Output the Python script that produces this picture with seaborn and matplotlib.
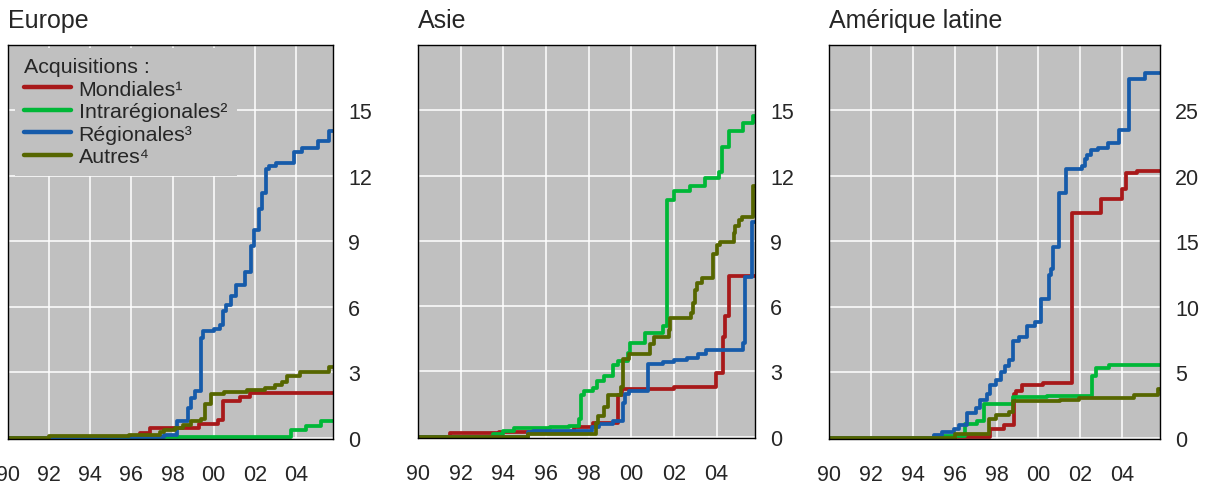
import numpy as np
import pandas as pd
import matplotlib
matplotlib.use("Agg")
import matplotlib.pyplot as plt
import seaborn as sns

# cumulative acquisitions, step points (year, value)
years_end = 2005.8

europe_mondiales = [(1990.0, 0.0), (1995.9, 0.05), (1996.4, 0.2), (1996.9, 0.45), (1999.3, 0.62),
                    (2000.2, 0.8), (2000.45, 1.7), (2001.3, 1.88), (2001.75, 2.03)]
europe_intra = [(1990.0, 0.0), (1996.0, 0.05), (2003.75, 0.37), (2004.5, 0.55), (2005.2, 0.78)]
europe_regionales = [(1990.0, 0.0), (1994.7, 0.03), (1997.6, 0.14), (1998.2, 0.78), (1998.75, 1.37),
                     (1998.9, 1.82), (1999.1, 2.14), (1999.4, 4.56), (1999.5, 4.88), (2000.0, 5.0),
                     (2000.3, 5.15), (2000.45, 5.8), (2000.6, 6.1), (2000.85, 6.5), (2001.1, 6.98),
                     (2001.5, 7.6), (2001.8, 8.8), (2001.95, 9.5), (2002.2, 10.5), (2002.35, 11.2),
                     (2002.55, 12.3), (2002.7, 12.45), (2003.05, 12.6), (2003.9, 13.1),
                     (2004.3, 13.3), (2005.05, 13.6), (2005.6, 14.05)]
europe_autres = [(1990.0, 0.0), (1992.0, 0.06), (1995.9, 0.12), (1997.4, 0.25), (1997.6, 0.35),
                 (1998.1, 0.45), (1998.5, 0.6), (1998.9, 0.75), (1999.4, 0.85), (1999.6, 1.55),
                 (1999.85, 2.0), (2000.5, 2.1), (2001.6, 2.2), (2002.5, 2.3), (2003.0, 2.4),
                 (2003.3, 2.55), (2003.55, 2.85), (2004.2, 3.0), (2005.6, 3.25)]

asie_mondiales = [(1990.0, 0.0), (1991.5, 0.15), (1993.8, 0.2), (1997.3, 0.43), (1998.2, 0.65),
                  (1999.4, 1.9), (1999.55, 2.2), (2002.0, 2.3), (2003.95, 2.95), (2004.3, 4.6),
                  (2004.4, 5.55), (2004.6, 7.4)]
asie_intra = [(1990.0, 0.0), (1993.5, 0.12), (1994.0, 0.27), (1994.5, 0.38), (1996.2, 0.43),
              (1997.1, 0.5), (1997.55, 0.8), (1997.65, 1.9), (1997.8, 2.1), (1998.2, 2.25),
              (1998.4, 2.55), (1998.7, 2.8), (1999.15, 3.3), (1999.4, 3.5), (1999.85, 3.85),
              (1999.95, 4.3), (2000.65, 4.75), (2001.5, 5.1), (2001.66, 10.9), (2002.0, 11.3),
              (2002.75, 11.5), (2003.45, 11.9), (2004.1, 12.15), (2004.25, 13.3), (2004.6, 14.05),
              (2005.25, 14.4), (2005.7, 14.75)]
asie_regionales = [(1990.0, 0.0), (1995.15, 0.2), (1995.4, 0.27), (1998.15, 0.43), (1998.5, 0.58),
                   (1999.15, 0.73), (1999.6, 1.57), (1999.7, 1.95), (1999.9, 2.1), (2000.8, 3.32),
                   (2001.5, 3.43), (2002.0, 3.52), (2002.6, 3.63), (2003.15, 3.78), (2003.5, 3.98),
                   (2005.25, 4.3), (2005.33, 7.33), (2005.68, 9.88)]
asie_autres = [(1990.0, 0.0), (1995.15, 0.12), (1998.35, 0.65), (1998.45, 0.95), (1998.7, 1.35),
               (1998.9, 1.9), (1999.5, 2.3), (1999.6, 3.55), (1999.9, 3.8), (2000.9, 4.25),
               (2001.05, 4.6), (2001.75, 4.9), (2001.82, 5.45), (2002.8, 5.7), (2002.9, 6.15),
               (2002.98, 6.75), (2003.1, 7.05), (2003.3, 7.3), (2003.85, 8.4), (2004.0, 8.8),
               (2004.15, 8.95), (2004.8, 9.35), (2004.88, 9.7), (2005.05, 9.95), (2005.2, 10.1),
               (2005.7, 11.5)]

latam_mondiales = [(1990.0, 0.0), (1996.0, 0.08), (1997.7, 0.63), (1998.35, 1.0), (1998.85, 3.3),
                   (1998.95, 3.55), (1999.2, 4.05), (2000.2, 4.2), (2001.6, 17.2), (2003.0, 18.2),
                   (2004.0, 19.0), (2004.17, 20.25), (2004.7, 20.4)]
latam_intra = [(1990.0, 0.0), (1995.0, 0.13), (1996.5, 1.05), (1997.05, 1.27), (1997.4, 2.55),
               (1998.8, 3.08), (2000.4, 3.22), (2002.55, 4.75), (2002.75, 5.35), (2003.35, 5.52)]
latam_regionales = [(1990.0, 0.0), (1995.0, 0.2), (1995.4, 0.43), (1995.95, 0.63), (1996.2, 1.0),
                    (1996.6, 1.9), (1997.0, 2.3), (1997.2, 2.9), (1997.55, 3.3), (1997.7, 4.0),
                    (1997.95, 4.4), (1998.2, 5.05), (1998.4, 5.45), (1998.6, 5.95), (1998.8, 7.35),
                    (1999.05, 7.7), (1999.45, 8.5), (1999.85, 8.85), (2000.1, 10.6), (2000.5, 12.4),
                    (2000.6, 12.9), (2000.7, 14.55), (2000.97, 18.7), (2001.3, 20.5), (2002.1, 20.75),
                    (2002.2, 21.3), (2002.3, 21.6), (2002.5, 22.0), (2002.85, 22.15), (2003.3, 22.5),
                    (2003.85, 23.5), (2004.3, 27.4), (2005.1, 27.85)]
latam_autres = [(1990.0, 0.0), (1996.0, 0.3), (1997.65, 1.45), (1997.95, 1.75), (1998.6, 2.0),
                (1998.8, 2.8), (2001.05, 2.9), (2001.95, 3.05), (2004.55, 3.28), (2005.7, 3.75)]

series_labels = ["Mondiales\u00b9", "Intrarégionales\u00b2", "Régionales\u00b3", "Autres\u2074"]
series_colors = ["#A8191A", "#00B737", "#165BAA", "#566600"]

panels = [
    ("Europe", [europe_mondiales, europe_intra, europe_regionales, europe_autres], 18, [0, 3, 6, 9, 12, 15]),
    ("Asie", [asie_mondiales, asie_intra, asie_regionales, asie_autres], 18, [0, 3, 6, 9, 12, 15]),
    ("Amérique latine", [latam_mondiales, latam_intra, latam_regionales, latam_autres], 30, [0, 5, 10, 15, 20, 25]),
]
x_ticks = [1990, 1992, 1994, 1996, 1998, 2000, 2002, 2004]
x_ticklabels = ["90", "92", "94", "96", "98", "00", "02", "04"]

sns.set_style("whitegrid", {"axes.facecolor": "#C0C0C0", "grid.color": "white",
                            "axes.edgecolor": "black"})
plt.rcParams["font.family"] = ["Liberation Sans", "DejaVu Sans"]

fig = plt.figure(figsize=(12.09, 4.85), dpi=100)
positions = [[8 / 1209, 45 / 485, 325 / 1209, 394 / 485],
             [418 / 1209, 46 / 485, 337 / 1209, 393 / 485],
             [829 / 1209, 45 / 485, 331 / 1209, 394 / 485]]

for i, (title, series, ymax, yticks) in enumerate(panels):
    ax = fig.add_axes(positions[i])
    rows = []
    for label, pts in zip(series_labels, series):
        for x, y in pts + [(years_end, pts[-1][1])]:
            rows.append({"year": x, "value": y, "serie": label})
    df = pd.DataFrame(rows)
    sns.lineplot(data=df, x="year", y="value", hue="serie", hue_order=series_labels,
                 palette=series_colors, drawstyle="steps-post", linewidth=2.7,
                 estimator=None, sort=False, ax=ax, legend=(i == 0))
    ax.set_xlim(1990, years_end)
    ax.set_ylim(-0.06 * ymax / 18, ymax)
    ax.set_xticks(x_ticks)
    ax.set_xticklabels(x_ticklabels)
    ax.set_yticks(yticks)
    ax.yaxis.tick_right()
    ax.tick_params(axis="both", length=0, labelsize=15.5)
    ax.tick_params(axis="x", pad=18)
    ax.tick_params(axis="y", pad=11)
    ax.grid(True, color="white", linewidth=1.1)
    ax.set_xlabel("")
    ax.set_ylabel("")
    for sp in ax.spines.values():
        sp.set_color("black")
        sp.set_linewidth(1.0)
    ax.set_title(title, loc="left", fontsize=18, pad=13)
    if i == 0:
        leg = ax.legend(title="Acquisitions :", loc="upper left", bbox_to_anchor=(0.02, 0.993),
                        fontsize=15.4, title_fontsize=15.4, alignment="left",
                        frameon=True, facecolor="#C0C0C0", edgecolor="none", framealpha=1,
                        handlelength=2.2, handletextpad=0.35, labelspacing=0.16,
                        borderpad=0.45, borderaxespad=0.0, fancybox=False)
        for line in leg.get_lines():
            line.set_linewidth(3.2)

fig.savefig("out.png", dpi=100)
